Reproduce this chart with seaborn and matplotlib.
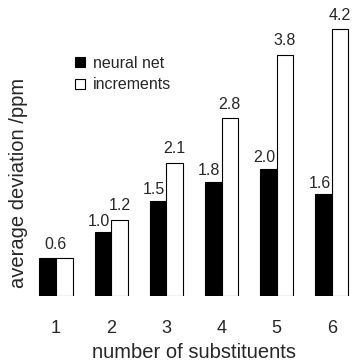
import pandas as pd
import matplotlib
matplotlib.use("Agg")
import matplotlib.pyplot as plt
import seaborn as sns

# values
substituents = ["1", "2", "3", "4", "5", "6"]
neural_net = [0.6, 1.0, 1.5, 1.8, 2.0, 1.6]
increments = [0.6, 1.2, 2.1, 2.8, 3.8, 4.2]
methods = ["neural net", "increments"]

sns.set_style("white")
plt.rcParams["font.family"] = ["Liberation Sans", "DejaVu Sans"]

df = pd.DataFrame({
    "n": substituents * 2,
    "dev": neural_net + increments,
    "method": [methods[0]] * 6 + [methods[1]] * 6,
})

fig = plt.figure(figsize=(3.54, 3.61), dpi=100)
ax = fig.add_axes([28 / 354, 65 / 361, 326 / 354, 296 / 361])

sns.barplot(data=df, x="n", y="dev", hue="method", palette=["black", "white"],
            width=0.6, gap=0, edgecolor="black", linewidth=0.8, saturation=1,
            ax=ax)

ax.set_xlim(-0.507, 5.4)
ax.set_ylim(0, 4.66)
ax.set_yticks([])
ax.tick_params(axis="x", length=0, pad=17, labelsize=13)
sns.despine(ax=ax, left=True, bottom=True)

ax.set_xlabel("number of substituents", fontsize=14.5)
ax.set_ylabel("average deviation /ppm", fontsize=14.5)
ax.xaxis.set_label_coords(0.509, -0.158)
ax.yaxis.set_label_coords(0.001, 0.382)

# bar value labels
for i, (a, b) in enumerate(zip(neural_net, increments)):
    if a == b:
        ax.text(i, a + 0.1, f"{a:.1f}", ha="center", va="bottom", fontsize=11.5)
        continue
    ax.text(i - 0.02, a + 0.06, f"{a:.1f}", ha="right", va="bottom",
            fontsize=11.5, zorder=1)
    ax.text(i + 0.15, b + 0.1, f"{b:.1f}", ha="center", va="bottom",
            fontsize=11.5)

ax.legend(loc="upper left", bbox_to_anchor=(75 / 354, 1 - 56 / 361),
          bbox_transform=fig.transFigure, frameon=False, fontsize=11.5,
          handlelength=0.6, handleheight=0.6, handletextpad=0.5,
          labelspacing=0.4, borderpad=0, borderaxespad=0)

fig.savefig("out.png", dpi=100)
